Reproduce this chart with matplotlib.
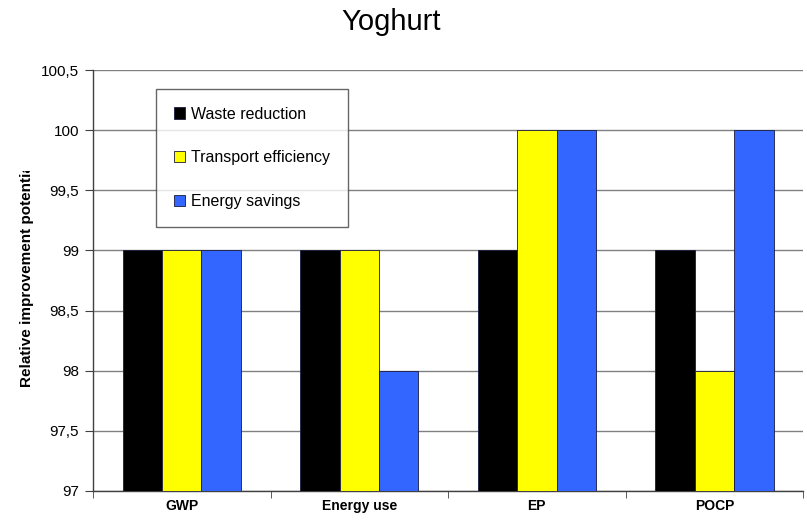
import numpy as np
import matplotlib
matplotlib.use('Agg')
import matplotlib.pyplot as plt
from matplotlib.ticker import MultipleLocator, FuncFormatter
from matplotlib.transforms import Bbox

categories = ['GWP', 'Energy use', 'EP', 'POCP']
series_names = ['Waste reduction', 'Transport efficiency', 'Energy savings']
waste = [99, 99, 99, 99]
transport = [99, 99, 100, 98]
energy = [99, 98, 100, 100]
colors = ['#000000', '#FFFF00', '#3366FF']

plt.rcParams['font.family'] = ['Liberation Sans', 'DejaVu Sans']

fig = plt.figure(figsize=(8.07, 5.21), dpi=100)
ax = fig.add_axes([0.1152, 0.0576, 0.88, 0.808])

x = np.arange(len(categories))
width = 0.667 / 3
for i, (vals, name, c) in enumerate(zip([waste, transport, energy], series_names, colors)):
    ax.bar(x + (i - 1) * width, np.array(vals) - 97, width, bottom=97, color=c,
           edgecolor='#1a1a40', linewidth=0.6, label=name, zorder=3)

ax.set_xlim(-0.5, len(categories) - 0.5)
ax.set_ylim(97, 100.5)
ax.yaxis.set_major_locator(MultipleLocator(0.5))
ax.yaxis.set_major_formatter(FuncFormatter(lambda v, p: f'{v:g}'.replace('.', ',')))
ax.grid(axis='y', color='#808080', linewidth=1.0, zorder=0)
ax.set_axisbelow(True)

# category labels in the middle, ticks on the boundaries
ax.set_xticks(x)
ax.set_xticklabels(categories, fontsize=10, fontweight='bold')
ax.tick_params(axis='x', length=0, pad=6)
ax.set_xticks(np.arange(len(categories) + 1) - 0.5, minor=True)
ax.tick_params(axis='x', which='minor', length=5, color='#404040')
ax.tick_params(axis='y', labelsize=11, length=6, color='#404040', pad=4)

for side in ['top', 'right']:
    ax.spines[side].set_visible(False)
for side in ['left', 'bottom']:
    ax.spines[side].set_color('#404040')
    ax.spines[side].set_linewidth(1.0)

fig.suptitle('Yoghurt', x=0.485, y=0.985, fontsize=21)

# axis title is cut off at the top, as in the exported chart
ylab = fig.text(0.034, 0.475, 'Relative improvement potential', rotation=90,
                ha='center', va='center', fontsize=11, fontweight='bold')
ylab.set_clip_box(Bbox.from_extents(0, 0, 807, 521 - 171))
ylab.set_clip_on(True)

leg = ax.legend(loc='upper left', bbox_to_anchor=(0.0887, 0.955), frameon=True,
                fancybox=False, edgecolor='#404040', fontsize=11.5,
                handlelength=0.7, handleheight=0.7, handletextpad=0.4,
                labelspacing=1.8, borderpad=1.1, borderaxespad=0)
leg.get_frame().set_linewidth(1.0)

fig.savefig('out.png', dpi=100)
